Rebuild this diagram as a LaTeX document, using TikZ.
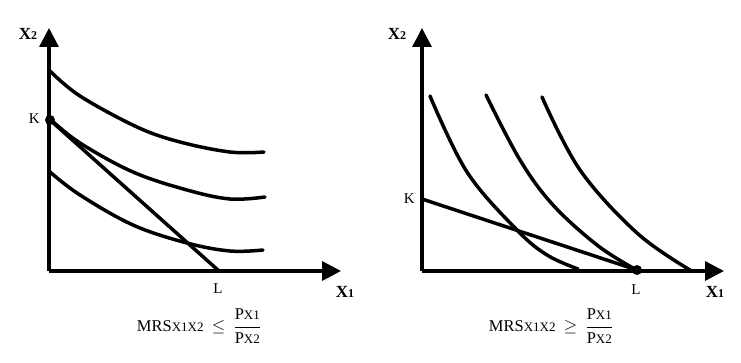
\documentclass[tikz,border=0pt]{standalone}
\usepackage{amsmath}
\usepackage{fontspec}
\setmainfont{Liberation Serif}
\usetikzlibrary{arrows.meta}
\newcommand{\smd}[1]{{\fontsize{13}{15}\selectfont #1}}
\begin{document}
\begin{tikzpicture}[x=1pt,y=-1pt,
  ax/.style={line width=3.5pt,-{Triangle[length=19pt,width=19pt]}},
  crv/.style={line width=3.5pt,line cap=round},
  lbl/.style={font=\fontsize{15}{17}\selectfont,inner sep=0pt},
  axl/.style={font=\fontsize{17}{19}\selectfont\bfseries,inner sep=0pt},
  dot/.style={circle,fill=black,inner sep=0pt,minimum size=10pt},
  frm/.style={font=\fontsize{16.5}{19}\selectfont,inner sep=0pt}]
\useasboundingbox (0,0) rectangle (741,363);
% ---------- left panel ----------
\coordinate (O1) at (49,271);
\coordinate (Y1) at (49,28);
\coordinate (X1e) at (341,271);
\coordinate (K1) at (50,120);
\coordinate (L1) at (219,271);
\draw[ax] (O1) -- (Y1);
\draw[ax] (O1) -- (X1e);
\draw[crv] plot[smooth,tension=0.6] coordinates {(50,71) (80,96) (137,127) (180,142) (230,152) (264,152)};
\draw[crv] plot[smooth,tension=0.6] coordinates {(50,119) (80,143) (133,172) (187,190) (230,199) (265,197)};
\draw[crv] plot[smooth,tension=0.6] coordinates {(50,172) (80,195) (133,225) (187,243) (230,251) (263,250)};
\draw[crv] (K1) -- (L1);
\node[dot] (dK1) at (K1) {};
\node[lbl,anchor=east] (tK1) at (40,119) {K};
\node[lbl] (tL1) at (218,289) {L};
\node[axl] (tX2a) at (28,34) {X{\fontsize{12}{14}\selectfont 2}};
\node[axl] (tX1a) at (345,292) {X{\fontsize{12}{14}\selectfont 1}};
\node[frm] (f1) at (199,326) {MRS\smd{X1X2}\ \ $\le$\ \ $\dfrac{\text{P\smd{X1}}}{\text{P\smd{X2}}}$};
% ---------- right panel ----------
\coordinate (O2) at (422,271);
\coordinate (Y2) at (422,28);
\coordinate (X2e) at (724,271);
\coordinate (K2) at (422,199);
\coordinate (L2) at (637,270);
\draw[ax] (O2) -- (Y2);
\draw[ax] (O2) -- (X2e);
\draw[crv] plot[smooth,tension=0.6] coordinates {(430,96) (467,172) (517,230) (547,255) (578,269)};
\draw[crv] plot[smooth,tension=0.6] coordinates {(486,95) (520,160) (553,205) (597,245) (633,268)};
\draw[crv] plot[smooth,tension=0.6] coordinates {(542,97) (580,170) (637,233) (690,270)};
\draw[crv] (K2) -- (L2);
\node[dot] (dL2) at (L2) {};
\node[lbl,anchor=east] (tK2) at (415,199) {K};
\node[lbl] (tL2) at (636,290) {L};
\node[axl] (tX2b) at (397,34) {X{\fontsize{12}{14}\selectfont 2}};
\node[axl] (tX1b) at (715,292) {X{\fontsize{12}{14}\selectfont 1}};
\node[frm] (f2) at (551,326) {MRS\smd{X1X2}\ \ $\ge$\ \ $\dfrac{\text{P\smd{X1}}}{\text{P\smd{X2}}}$};
\end{tikzpicture}
\end{document}
